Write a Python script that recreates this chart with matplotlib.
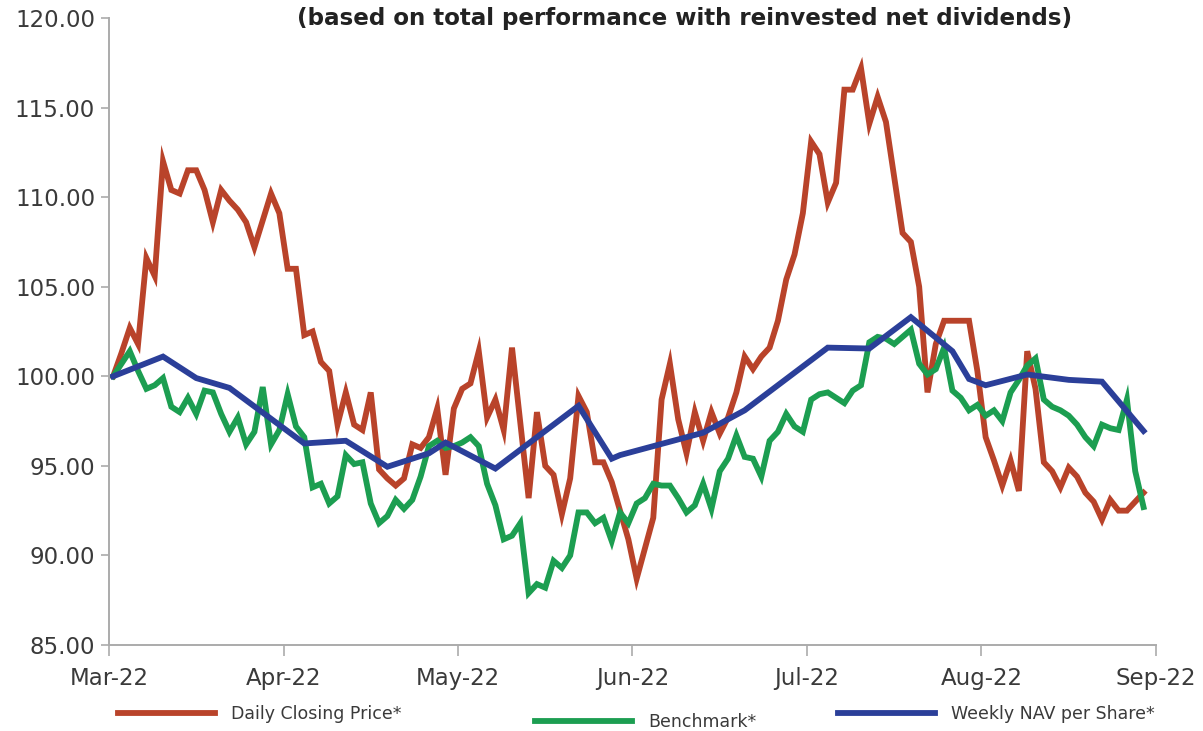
import matplotlib
matplotlib.use('Agg')
import matplotlib.pyplot as plt
import numpy as np

# Monthly tick labels (category axis, 21 trading days per month)
months = ['Mar-22', 'Apr-22', 'May-22', 'Jun-22', 'Jul-22', 'Aug-22', 'Sep-22']
days_per_month = 21

# Daily closing price (rebased to 100)
closing_price = [
    100.0, 101.3, 102.7, 101.8, 106.6, 105.6, 112.0, 110.4, 110.2, 111.5,
    111.5, 110.4, 108.6, 110.4, 109.8, 109.3, 108.6, 107.2, 108.7, 110.2,
    109.1, 106.0, 106.0, 102.3, 102.5, 100.8, 100.3, 97.3, 99.1, 97.3,
    97.0, 99.1, 94.8, 94.3, 93.9, 94.3, 96.2, 96.0, 96.6, 98.2,
    94.5, 98.2, 99.3, 99.6, 101.4, 97.7, 98.7, 97.0, 101.6, 97.4,
    93.2, 98.0, 95.0, 94.5, 92.3, 94.3, 98.9, 98.0, 95.2, 95.2,
    94.1, 92.5, 90.9, 88.7, 90.4, 92.1, 98.7, 100.7, 97.6, 95.7,
    98.0, 96.4, 98.0, 96.8, 97.7, 99.1, 101.1, 100.4, 101.1, 101.6,
    103.1, 105.4, 106.8, 109.1, 113.1, 112.4, 109.7, 110.8, 116.0, 116.0,
    117.2, 114.1, 115.6, 114.2, 111.1, 108.0, 107.5, 105.0, 99.1, 101.8,
    103.1, 103.1, 103.1, 103.1, 100.3, 96.6, 95.3, 93.9, 95.3, 93.6,
    101.4, 99.3, 95.2, 94.7, 93.8, 94.9, 94.4, 93.5, 93.0, 92.0,
    93.1, 92.5, 92.5, 93.0, 93.5,
]

# Benchmark (rebased to 100)
benchmark = [
    100.0, 100.7, 101.4, 100.3, 99.3, 99.5, 99.9, 98.3, 98.0, 98.8,
    97.9, 99.2, 99.1, 97.9, 96.9, 97.7, 96.2, 96.9, 99.4, 96.2,
    97.0, 99.0, 97.2, 96.6, 93.8, 94.0, 92.9, 93.3, 95.6, 95.1,
    95.2, 92.9, 91.8, 92.2, 93.1, 92.6, 93.1, 94.4, 96.1, 96.4,
    96.0, 96.1, 96.3, 96.6, 96.1, 94.0, 92.8, 90.9, 91.1, 91.8,
    87.9, 88.4, 88.2, 89.7, 89.3, 90.0, 92.4, 92.4, 91.8, 92.1,
    90.8, 92.4, 91.8, 92.9, 93.2, 94.0, 93.9, 93.9, 93.2, 92.4,
    92.8, 94.0, 92.6, 94.7, 95.4, 96.7, 95.5, 95.4, 94.4, 96.4,
    96.9, 97.9, 97.2, 96.9, 98.7, 99.0, 99.1, 98.8, 98.5, 99.2,
    99.5, 101.9, 102.2, 102.1, 101.8, 102.2, 102.6, 100.7, 100.1, 100.4,
    101.6, 99.2, 98.8, 98.1, 98.4, 97.8, 98.1, 97.5, 99.1, 99.8,
    100.6, 101.0, 98.7, 98.3, 98.1, 97.8, 97.3, 96.6, 96.1, 97.3,
    97.1, 97.0, 98.7, 94.7, 92.7,
]

# Weekly NAV per share: trading-day index of each published NAV and its value
nav_day = [0, 6, 10, 14, 23, 28, 33, 38, 40, 46, 56, 60, 61, 71, 76, 86,
           91, 96, 101, 103, 105, 110, 115, 119, 124]
nav_value = [100.0, 101.1, 99.9, 99.35, 96.25, 96.4, 94.95, 95.7, 96.3, 94.85,
             98.35, 95.4, 95.6, 96.85, 98.1, 101.6, 101.55, 103.3, 101.4, 99.85,
             99.5, 100.1, 99.8, 99.7, 96.95]

red = '#B9432A'
green = '#1C9E51'
blue = '#2B3F99'
axis_grey = '#ABABAB'
text_col = '#3A3A3A'
lw = 4.2

fig = plt.figure(figsize=(12.03, 7.31), dpi=100)
ax = fig.add_axes([109 / 1203., 86 / 731., 1047 / 1203., 627 / 731.])

# categories sit between tick marks
x_daily = np.arange(len(closing_price)) + 0.5
x_nav = np.array(nav_day) + 0.5

l1, = ax.plot(x_daily, closing_price, color=red, lw=lw, solid_joinstyle='miter')
l2, = ax.plot(x_daily, benchmark, color=green, lw=lw, solid_joinstyle='miter')
l3, = ax.plot(x_nav, nav_value, color=blue, lw=lw, solid_joinstyle='miter')

n_cat = days_per_month * (len(months) - 1)
ax.set_xlim(0, n_cat)
ax.set_ylim(85, 120)
ax.set_xticks(np.arange(0, n_cat + 1, days_per_month))
ax.set_xticklabels(months)
ax.set_yticks(np.arange(85, 121, 5))
ax.set_yticklabels(['%.2f' % v for v in np.arange(85, 121, 5)])

for s in ['top', 'right']:
    ax.spines[s].set_visible(False)
for s in ['left', 'bottom']:
    ax.spines[s].set_color(axis_grey)
    ax.spines[s].set_linewidth(1.4)
ax.tick_params(axis='y', direction='out', length=6, width=1.2, color=axis_grey,
               labelsize=16.5, labelcolor=text_col, pad=4)
ax.tick_params(axis='x', direction='out', length=8, width=1.2, color=axis_grey,
               labelsize=16.5, labelcolor=text_col, pad=8)

fig.text(685 / 1203., 1 - 18 / 731., '(based on total performance with reinvested net dividends)',
         ha='center', va='center', fontsize=16.6, fontweight='bold', color='#222222')

# staggered legend entries along the bottom
legend_spots = [(l1, 'Daily Closing Price*', 118, 714),
                (l2, 'Benchmark*', 535, 722),
                (l3, 'Weekly NAV per Share*', 838, 714)]
for handle, label, px, py in legend_spots:
    fig.legend([handle], [label], loc='center left',
               bbox_to_anchor=(px / 1203., 1 - py / 731.),
               frameon=False, fontsize=12.5, handlelength=5.6,
               handletextpad=0.9, borderpad=0, borderaxespad=0,
               labelcolor=text_col)

fig.savefig('out.png', dpi=100)
